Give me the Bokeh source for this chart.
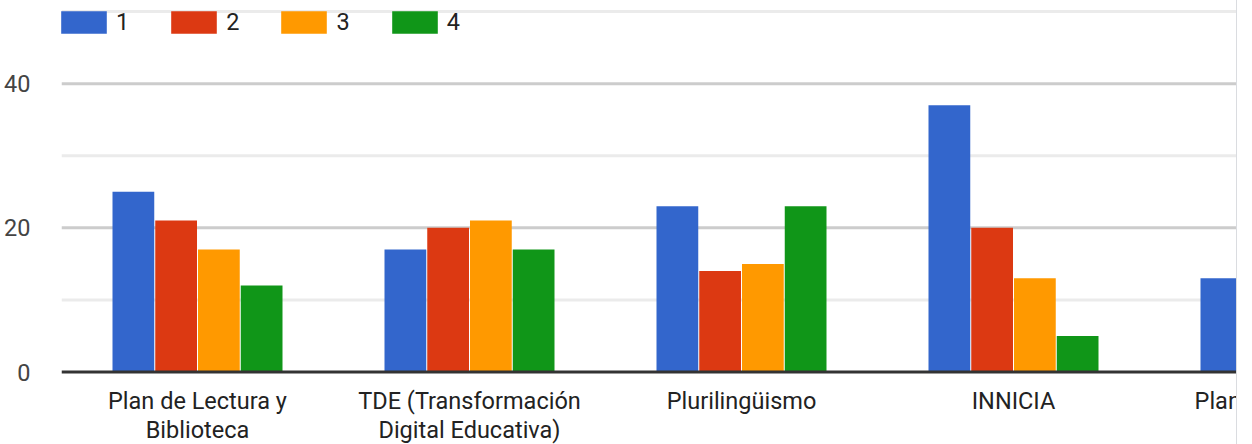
import math
from bokeh.plotting import figure
from bokeh.models import Range1d, FixedTicker, Legend, LegendItem
from bokeh.core.properties import value
from bokeh.embed import file_html
from bokeh.resources import INLINE

# ---- data ----
categories = [
    "Plan de Lectura y\nBiblioteca",
    "TDE (Transformación\nDigital Educativa)",
    "Plurilingüismo",
    "INNICIA",
    "Plan de Igualdad",
]
series_names = ["1", "2", "3", "4"]
s1 = [25, 17, 23, 37, 13]
s2 = [21, 20, 14, 20, float("nan")]
s3 = [17, 21, 15, 13, float("nan")]
s4 = [12, 17, 23, 5, float("nan")]
colors = ["#3366cc", "#dc3912", "#ff9900", "#109618"]
y_major = [0, 20, 40]
y_minor = [10, 30, 50]

FONT = "Roboto"
FS = "23.5px"
W, H = 1237, 444
left_b, top_b = 61, 8
cat_px = 272.0
frame_w = W - left_b
frame_h = H - top_b
x_end = frame_w / cat_px
px_per_unit = 7.21
y_top = 50.42
y_bot = y_top - frame_h / px_per_unit

p = figure(width=W, height=H, output_backend="svg", toolbar_location=None,
           x_range=Range1d(0, x_end), y_range=Range1d(y_bot, y_top),
           min_border_left=left_b, min_border_right=0, min_border_top=top_b,
           min_border_bottom=0)
p.outline_line_color = None
p.background_fill_color = "white"
p.border_fill_color = "white"
p.styles = {"border-right": "1px solid #dadce0"}

p.ygrid.visible = False
p.xgrid.visible = False
for v in y_minor:
    p.line([0, x_end], [v, v], line_color="#ebebeb", line_width=3)
for v in y_major:
    if v > 0:
        p.line([0, x_end], [v, v], line_color="#cccccc", line_width=3)

step = 42.75 / cat_px
bw = 41.75 / cat_px
all_series = [s1, s2, s3, s4]
renderers = []
for j, (vals, col) in enumerate(zip(all_series, colors)):
    xs, tops = [], []
    for i, v in enumerate(vals):
        if v is None or (isinstance(v, float) and math.isnan(v)):
            continue
        xs.append(i + 0.5 + (j - 1.5) * step)
        tops.append(v)
    r = p.vbar(x=xs, top=tops, width=bw, bottom=0, fill_color=col, line_color=None)
    renderers.append(r)

# baseline (x axis line)
p.line([0, x_end], [0, 0], line_color="#333333", line_width=3)

# category labels (drawn inside the frame so the last one is clipped at the edge)
cx_in, lab_in, cx_edge, lab_edge = [], [], [], []
for i, name in enumerate(categories):
    c = i + 0.5
    if c < x_end:
        cx_in.append(c)
        lab_in.append(name)
    else:
        cx_edge.append(c - 2 * step - 0.02)
        lab_edge.append(name)
p.text(x=cx_in, y=[0] * len(cx_in), text=lab_in, text_align="center", text_baseline="top",
       y_offset=15, text_font=value(FONT), text_font_size=FS, text_color="#222222",
       text_line_height=1.05)
if cx_edge:
    p.text(x=cx_edge, y=[0] * len(cx_edge), text=lab_edge, text_align="left", text_baseline="top",
           y_offset=15, text_font=value(FONT), text_font_size=FS, text_color="#222222",
           text_line_height=1.05)

p.xaxis.visible = False

# y axis
p.yaxis.ticker = FixedTicker(ticks=y_major)
p.yaxis.axis_line_color = None
p.yaxis.major_tick_line_color = None
p.yaxis.minor_tick_line_color = None
p.yaxis.major_label_text_font = FONT
p.yaxis.major_label_text_font_size = FS
p.yaxis.major_label_text_color = "#444444"
p.yaxis.major_label_standoff = 25

gw, gh = 57, 28
legend = Legend(items=[LegendItem(label=n, renderers=[r]) for n, r in zip(series_names, renderers)],
                orientation="horizontal", location=(-6, frame_h - gh),
                glyph_width=gw, glyph_height=gh, label_standoff=4, spacing=36,
                label_width=0, label_height=0,
                padding=0, margin=0, background_fill_alpha=0, border_line_color=None,
                label_text_font=FONT, label_text_font_size=FS, label_text_color="#222222")
p.add_layout(legend)

open("out.html", "w").write(file_html(p, INLINE))
